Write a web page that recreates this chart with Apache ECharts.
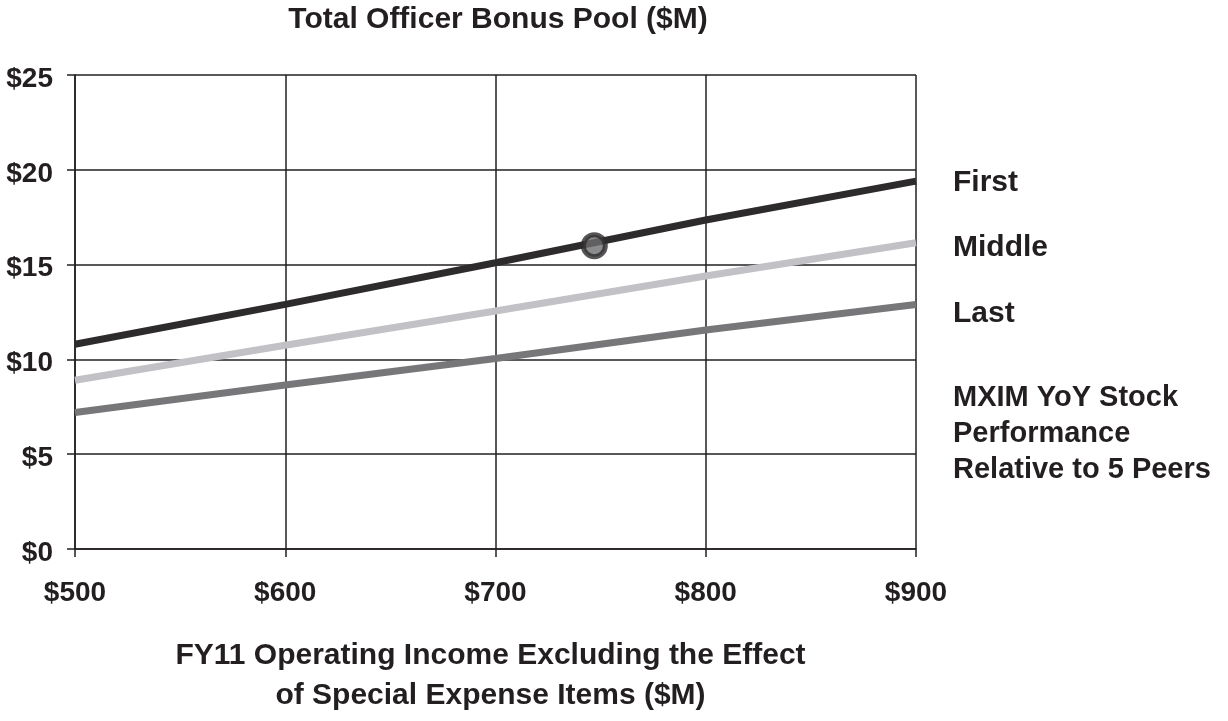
<!DOCTYPE html>
<html>
<head>
<meta charset="utf-8">
<script src="https://cdn.jsdelivr.net/npm/echarts@6/dist/echarts.min.js"></script>
<style>
  html, body { margin: 0; padding: 0; background: #fff; }
  #chart { width: 1228px; height: 721px; }
</style>
</head>
<body>
<div id="chart"></div>
<script>
// 营业收入 ($M)
const incomeValues = [500, 600, 700, 800, 900]
// 三条线：相对同行股价表现排名
const firstValues = [10.8, 12.9, 15.1, 17.35, 19.4]
const middleValues = [8.9, 10.75, 12.55, 14.4, 16.15]
const lastValues = [7.2, 8.65, 10.05, 11.55, 12.9]
// 标记点
const markerPoint = [747, 16.0]
const rightLabels = ['First', 'Middle', 'Last']
const noteLines = ['MXIM YoY Stock', 'Performance', 'Relative to 5 Peers']

const ink = '#231f20'
const font = 'Liberation Sans, Arial, Helvetica, sans-serif'

const pairs = vals => incomeValues.map((x, i) => [x, vals[i]])

const chart = echarts.init(document.getElementById('chart'))

const lineSeries = (name, vals, color) => ({
  name: name,
  type: 'line',
  data: pairs(vals),
  symbol: 'none',
  lineStyle: { color: color, width: 7 },
  z: 3,
  silent: true
})

const option = {
  animation: false,
  title: {
    text: 'Total Officer Bonus Pool ($M)',
    left: 493,
    textAlign: 'center',
    top: 0,
    textStyle: { color: ink, fontFamily: font, fontWeight: 'bold', fontSize: 30 }
  },
  grid: { left: 75, right: 312, top: 75, bottom: 172, containLabel: false },
  xAxis: {
    type: 'value',
    min: 500,
    max: 900,
    interval: 100,
    name: 'FY11 Operating Income Excluding the Effect\nof Special Expense Items ($M)',
    nameLocation: 'middle',
    nameGap: 87,
    nameTextStyle: { color: ink, fontFamily: font, fontWeight: 'bold', fontSize: 30, lineHeight: 40, padding: [0, 10, 0, 0] },
    axisLine: { show: true, lineStyle: { color: ink, width: 1.5 } },
    axisTick: { show: true, length: 8, inside: false, lineStyle: { color: ink, width: 1.5 } },
    axisLabel: {
      margin: 30,
      color: ink, fontFamily: font, fontWeight: 'bold', fontSize: 28,
      formatter: v => '$' + v
    },
    splitLine: { show: true, lineStyle: { color: ink, width: 1.5 } }
  },
  yAxis: {
    type: 'value',
    min: 0,
    max: 25,
    interval: 5,
    axisLine: { show: true, lineStyle: { color: ink, width: 1.5 } },
    axisTick: { show: true, length: 8, lineStyle: { color: ink, width: 1.5 } },
    axisLabel: {
      margin: 22,
      verticalAlign: 'top',
      lineHeight: 8,
      color: ink, fontFamily: font, fontWeight: 'bold', fontSize: 28,
      formatter: v => '$' + v
    },
    splitLine: { show: true, lineStyle: { color: ink, width: 1.5 } }
  },
  series: [
    lineSeries('Last', lastValues, '#77777a'),
    lineSeries('Middle', middleValues, '#c2c2c6'),
    lineSeries('First', firstValues, '#2d2b2c'),
    {
      type: 'scatter',
      data: [markerPoint],
      symbol: 'circle',
      symbolSize: 22,
      itemStyle: { color: '#6d6e71', borderColor: '#2d2b2c', borderWidth: 5 },
      z: 5,
      silent: true
    }
  ],
  graphic: [
    ...rightLabels.map((t, i) => ({
      type: 'text',
      left: 953,
      top: [168, 233, 299][i],
      style: { text: t, fill: ink, font: 'bold 30px ' + font }
    })),
    {
      type: 'text',
      left: 953,
      top: 380,
      style: { text: noteLines.join('\n'), fill: ink, font: 'bold 29px ' + font, lineHeight: 36 }
    }
  ]
}

chart.setOption(option)
</script>
</body>
</html>
